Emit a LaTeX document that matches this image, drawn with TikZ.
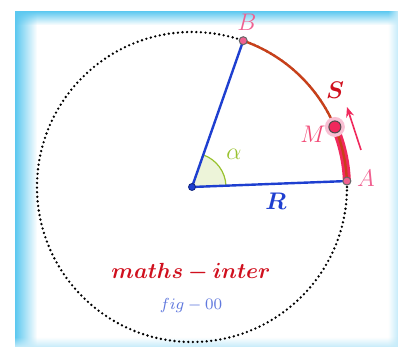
\documentclass[tikz,border=0pt]{standalone}
\usepackage{amsmath, amssymb, bm}
\usepackage{xcolor}
\usetikzlibrary{positioning, arrows.meta, calc, fadings}

\definecolor{frameblue}{HTML}{5BC8F0}
\definecolor{segblue}{HTML}{1E3FD0}
\definecolor{arcorange}{HTML}{C8401A}
\definecolor{arcpink}{HTML}{F0285C}
\definecolor{lblpink}{HTML}{F06090}
\definecolor{lblred}{HTML}{D0101E}
\definecolor{anggreen}{HTML}{99C22E}

\begin{document}
\begin{tikzpicture}[x=0.5pt, y=0.5pt,
  seg/.style={line width=1.2pt, draw=segblue},
  arcS/.style={line width=1.2pt, draw=arcorange},
  pt/.style={circle, draw=black!60, fill=lblpink, minimum size=4pt, inner sep=0pt, line width=0.5pt},
  lbl/.style={font=\large}
]
  \useasboundingbox (-192,-160) rectangle (206,187);
  % 边框
  \fill[white] (-177,-160) rectangle (206,176);
  \fill[frameblue, path fading=east] (-177,-160) rectangle (-155,176);
  \fill[frameblue, path fading=south] (-177,176) rectangle (206,162);
  \fill[frameblue!35, path fading=west] (196,-160) rectangle (206,176);
  \fill[frameblue!35, path fading=north] (-177,-160) rectangle (206,-150);

  % 圆心和点
  \coordinate (O) at (0,0);
  \coordinate (A) at (2.2:155);
  \coordinate (B) at (70.7:155);
  \coordinate (M) at (22.8:155);

  % 虚线圆
  \draw[line width=1.3pt, dash pattern=on 0pt off 2.3pt, line cap=round] (O) circle[radius=155];

  % 角 alpha
  \filldraw[fill=anggreen!18, draw=anggreen, line width=0.6pt]
    (O) -- (2.2:34) arc[start angle=2.2, end angle=70.7, radius=34] -- cycle;
  \node[lbl, text=anggreen] (alpha) at (42,33) {$\alpha$};

  % 半径
  \draw[seg] (O) -- (A);
  \draw[seg] (O) -- (B);
  \node[lbl, text=segblue] (lR) at (84,-14) {$\bm{R}$};

  % 弧 S
  \draw[line width=4pt, draw=arcpink] (A) arc[start angle=2.2, end angle=22.8, radius=155];
  \draw[arcS] (A) arc[start angle=2.2, end angle=70.7, radius=155];
  \node[lbl, text=lblred] (lS) at (143,97) {$\bm{S}$};

  % 方向箭头
  \coordinate (t1) at (169,37);
  \coordinate (t2) at (155,80);
  \draw[-{Stealth[length=5pt, width=4pt]}, line width=0.8pt, draw=arcpink] (t1) -- (t2);

  % 点
  \node[circle, fill=lblpink!40, minimum size=10pt, inner sep=0pt] (haloM) at (M) {};
  \node[pt, minimum size=6pt, fill=arcpink, draw=black!70] (pM) at (M) {};
  \node[pt] (pA) at (A) {};
  \node[pt] (pB) at (B) {};
  \node[circle, fill=segblue, draw=segblue!60!black, minimum size=3.5pt, inner sep=0pt] (pO) at (O) {};

  % 标签
  \node[lbl, text=lblpink] (lA) at (174,9) {$A$};
  \node[lbl, text=lblpink] (lB) at (55,165) {$B$};
  \node[lbl, text=arcpink!85] (lM) at (121,53) {$M$};

  % 文字
  \node[font=\fontsize{10.5}{12}\selectfont, text=lblred] (title) at (-1,-85) {$\bm{maths-inter}$};
  \node[font=\fontsize{8.4}{10}\selectfont, text=segblue!70] (fig) at (-1,-119) {$fig-00$};
\end{tikzpicture}
\end{document}
